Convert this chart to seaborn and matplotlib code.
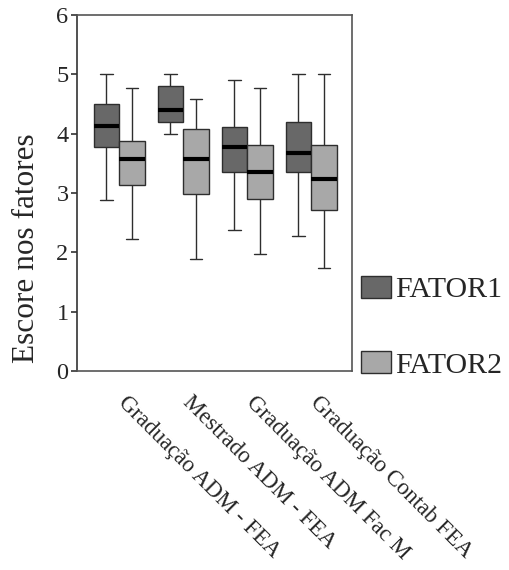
import numpy as np
import pandas as pd
import matplotlib
matplotlib.use("Agg")
import matplotlib.pyplot as plt
import matplotlib.patches as mpatches
from matplotlib.transforms import ScaledTranslation
import seaborn as sns

# five-number summaries: min, Q1, median, Q3, max
grupos = ["Graduação ADM - FEA", "Mestrado ADM - FEA",
          "Graduação ADM Fac M", "Graduação Contab FEA"]
fatores = ["FATOR1", "FATOR2"]
fator1 = [
    [2.88, 3.78, 4.12, 4.50, 5.00],
    [4.00, 4.19, 4.39, 4.80, 5.00],
    [2.38, 3.36, 3.78, 4.11, 4.90],
    [2.28, 3.36, 3.67, 4.19, 5.00],
]
fator2 = [
    [2.23, 3.13, 3.57, 3.88, 4.76],
    [1.89, 2.99, 3.57, 4.08, 4.58],
    [1.97, 2.90, 3.35, 3.80, 4.76],
    [1.74, 2.72, 3.24, 3.80, 5.00],
]
cores = ["#686868", "#a8a8a8"]

rows = []
for g, s1, s2 in zip(grupos, fator1, fator2):
    for v in s1:
        rows.append({"grupo": g, "fator": "FATOR1", "escore": v})
    for v in s2:
        rows.append({"grupo": g, "fator": "FATOR2", "escore": v})
df = pd.DataFrame(rows)

sns.set_theme(style="white")
plt.rcParams["font.family"] = ["Liberation Serif", "DejaVu Serif"]

fig = plt.figure(figsize=(5.09, 5.70), dpi=100)
ax = fig.add_axes([0.151, 0.349, 0.541, 0.625])

sns.boxplot(
    data=df, x="grupo", y="escore", hue="fator", order=grupos,
    hue_order=fatores, palette=cores, saturation=1, whis=(0, 100),
    width=0.8, gap=0, linecolor="#2e2e2e", linewidth=1.0,
    medianprops={"color": "black", "linewidth": 3},
    ax=ax, legend=False,
)

ax.set_ylim(0, 6)
ax.set_xlim(-0.66, 3.64)
ax.set_yticks(range(0, 7))
ax.set_xlabel("")
ax.set_ylabel("Escore nos fatores", fontsize=22.5)
ax.yaxis.set_label_coords(-0.13, 0.345)
ax.tick_params(axis="y", direction="out", length=4, width=1.2, labelsize=17.5,
               pad=2, left=True, color="#333333")
ax.tick_params(axis="x", length=0, labelsize=16.5, pad=8)
deslocamento = ScaledTranslation(7 / 72, -7 / 72, fig.dpi_scale_trans)
for lab in ax.get_xticklabels():
    lab.set_rotation(-45)
    lab.set_ha("left")
    lab.set_va("top")
    lab.set_rotation_mode("anchor")
    lab.set_transform(lab.get_transform() + deslocamento)

for side, sp in ax.spines.items():
    sp.set_visible(True)
    sp.set_color("#555555")
    sp.set_linewidth(1.2)
ax.spines["left"].set_color("#333333")

handles = [mpatches.Patch(facecolor=c, edgecolor="#2e2e2e", label=f)
           for c, f in zip(cores, fatores)]
ax.legend(handles=handles, loc="upper left", bbox_to_anchor=(0.99, 0.30),
          frameon=False, fontsize=21.5, handlelength=1.0, handleheight=0.75,
          handletextpad=0.12, labelspacing=1.6, borderaxespad=0)

fig.savefig("out.png", dpi=100)
